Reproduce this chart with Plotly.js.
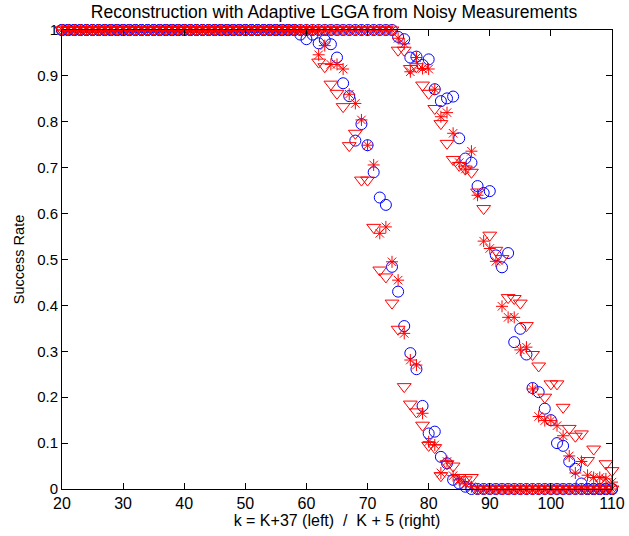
<!DOCTYPE html>
<html>
<head>
<meta charset="utf-8">
<script src="https://cdn.plot.ly/plotly-3.0.1.min.js"></script>
<style>html,body{margin:0;padding:0;background:#fff;}#chart{width:629px;height:536px;}</style>
</head>
<body>
<div id="chart"></div>
<script>
var kValues = [20,21,22,23,24,25,26,27,28,29,
  30,31,32,33,34,35,36,37,38,39,
  40,41,42,43,44,45,46,47,48,49,
  50,51,52,53,54,55,56,57,58,59,
  60,61,62,63,64,65,66,67,68,69,
  70,71,72,73,74,75,76,77,78,79,
  80,81,82,83,84,85,86,87,88,89,
  90,91,92,93,94,95,96,97,98,99,
  100,101,102,103,104,105,106,107,108,109,
  110];

var leftCircle = [1,1,1,1,1,1,1,1,1,1,
  1,1,1,1,1,1,1,1,1,1,
  1,1,1,1,1,1,1,1,1,1,
  1,1,1,1,1,1,1,1,1,0.99,
  0.98,0.99,0.971,0.978,0.969,0.94,0.884,0.856,0.759,0.795,
  0.749,0.69,0.635,0.619,0.484,0.43,0.355,0.296,0.261,0.181,
  0.121,0.125,0.07,0.056,0.02,0.012,0.005,0,0,0,
  0,0,0,0,0,0,0,0,0,0,
  0,0,0,0,0,0,0,0,0,0,
  0];

var leftStar = [1,1,1,1,1,1,1,1,1,1,
  1,1,1,1,1,1,1,1,1,1,
  1,1,1,1,1,1,1,1,1,1,
  1,1,1,1,1,1,1,1,1,1,
  1,1,0.946,0.966,0.925,0.925,0.915,0.86,0.84,0.804,
  0.749,0.706,0.557,0.571,0.495,0.455,0.339,0.281,0.27,0.165,
  0.103,0.096,0.035,0.06,0.029,0.02,0.011,0.005,0,0,
  0,0,0,0,0,0,0,0,0,0,
  0,0,0,0,0,0,0,0,0,0,
  0];

var leftTriangle = [1,1,1,1,1,1,1,1,1,1,
  1,1,1,1,1,1,1,1,1,1,
  1,1,1,1,1,1,1,1,1,1,
  1,1,1,1,1,1,1,1,1,1,
  1,1,0.93,0.92,0.882,0.862,0.833,0.748,0.775,0.673,
  0.673,0.57,0.477,0.462,0.405,0.348,0.223,0.185,0.168,0.139,
  0.095,0.09,0.029,0.055,0.05,0.025,0.02,0.025,0,0,
  0,0,0,0,0,0,0,0,0,0,
  0,0,0,0,0,0,0,0,0,0,
  0];

var rightCircle = [1,1,1,1,1,1,1,1,1,1,
  1,1,1,1,1,1,1,1,1,1,
  1,1,1,1,1,1,1,1,1,1,
  1,1,1,1,1,1,1,1,1,1,
  1,1,1,1,1,1,1,1,1,1,
  1,1,1,1,1,0.985,0.98,0.94,0.942,0.924,
  0.936,0.871,0.845,0.851,0.855,0.764,0.72,0.711,0.66,0.645,
  0.649,0.509,0.483,0.514,0.32,0.349,0.293,0.22,0.211,0.175,
  0.15,0.1,0.094,0.06,0.044,0.012,0,0,0,0,
  0];

var rightStar = [1,1,1,1,1,1,1,1,1,1,
  1,1,1,1,1,1,1,1,1,1,
  1,1,1,1,1,1,1,1,1,1,
  1,1,1,1,1,1,1,1,1,1,
  1,1,1,1,1,1,1,1,1,1,
  1,1,1,1,1,0.982,0.97,0.909,0.94,0.916,
  0.915,0.871,0.811,0.82,0.775,0.711,0.697,0.736,0.64,0.54,
  0.524,0.496,0.398,0.374,0.374,0.303,0.309,0.218,0.158,0.149,
  0.149,0.138,0.116,0.072,0.035,0.06,0.03,0.025,0.025,0.022,
  0.015];

var rightTriangle = [1,1,1,1,1,1,1,1,1,1,
  1,1,1,1,1,1,1,1,1,1,
  1,1,1,1,1,1,1,1,1,1,
  1,1,1,1,1,1,1,1,1,1,
  1,1,1,1,1,1,1,1,1,1,
  1,1,1,1,1,0.956,0.956,0.916,0.92,0.88,
  0.862,0.829,0.796,0.753,0.718,0.705,0.697,0.69,0.647,0.611,
  0.553,0.52,0.502,0.417,0.415,0.405,0.356,0.293,0.268,0.2,
  0.229,0.229,0.178,0.132,0.115,0.12,0.062,0.087,0.02,0.055,
  0.04];

var xTicks = [20,30,40,50,60,70,80,90,100,110];
var yTicks = [0,0.1,0.2,0.3,0.4,0.5,0.6,0.7,0.8,0.9,1];
var yTickText = ['0','0.1','0.2','0.3','0.4','0.5','0.6','0.7','0.8','0.9','1'];

function tr(y, sym, color, size) {
  return {x: kValues, y: y, type: 'scatter', mode: 'markers', cliponaxis: false,
    marker: {symbol: sym, size: size, color: color, line: {color: color, width: 1}},
    showlegend: false, hoverinfo: 'x+y'};
}

var data = [
  tr(leftCircle, 'circle-open', '#0000ff', 11),
  tr(rightCircle, 'circle-open', '#0000ff', 11),
  tr(leftStar, 'asterisk-open', '#ff0000', 10),
  tr(rightStar, 'asterisk-open', '#ff0000', 10),
  tr(leftTriangle, 'triangle-down-open', '#ff0000', 12),
  tr(rightTriangle, 'triangle-down-open', '#ff0000', 12)
];

var fontFam = 'Liberation Sans, Arial, Helvetica, sans-serif';
var layout = {
  width: 629, height: 536,
  margin: {l: 62, r: 17, t: 30, b: 47, pad: 0},
  paper_bgcolor: '#fff', plot_bgcolor: '#fff',
  font: {family: fontFam, size: 14, color: '#000'},
  title: {text: 'Reconstruction with Adaptive LGGA from Noisy Measurements',
    font: {family: fontFam, size: 17.5, color: '#000'},
    x: 0.531, xanchor: 'center', y: 0.978, yref: 'container', yanchor: 'middle'},
  xaxis: {range: [20, 110], tickvals: xTicks, ticktext: xTicks.map(String),
    ticks: 'inside', ticklen: 6, tickcolor: '#000', tickwidth: 1,
    showline: true, linecolor: '#000', linewidth: 1, mirror: 'ticks',
    showgrid: false, zeroline: false,
    tickfont: {family: fontFam, size: 16},
    title: {text: 'k = K+37 (left)\u00a0\u00a0/\u00a0\u00a0K + 5 (right)', font: {family: fontFam, size: 16}, standoff: 3}},
  yaxis: {range: [0, 1], tickvals: yTicks, ticktext: yTickText,
    ticks: 'inside', ticklen: 6, tickcolor: '#000', tickwidth: 1,
    showline: true, linecolor: '#000', linewidth: 1, mirror: 'ticks',
    showgrid: false, zeroline: false,
    tickfont: {family: fontFam, size: 15},
    title: {text: 'Success Rate', font: {family: fontFam, size: 14.5}, standoff: 9}}
};

Plotly.newPlot('chart', data, layout, {displayModeBar: false, staticPlot: true});
</script>
</body>
</html>
